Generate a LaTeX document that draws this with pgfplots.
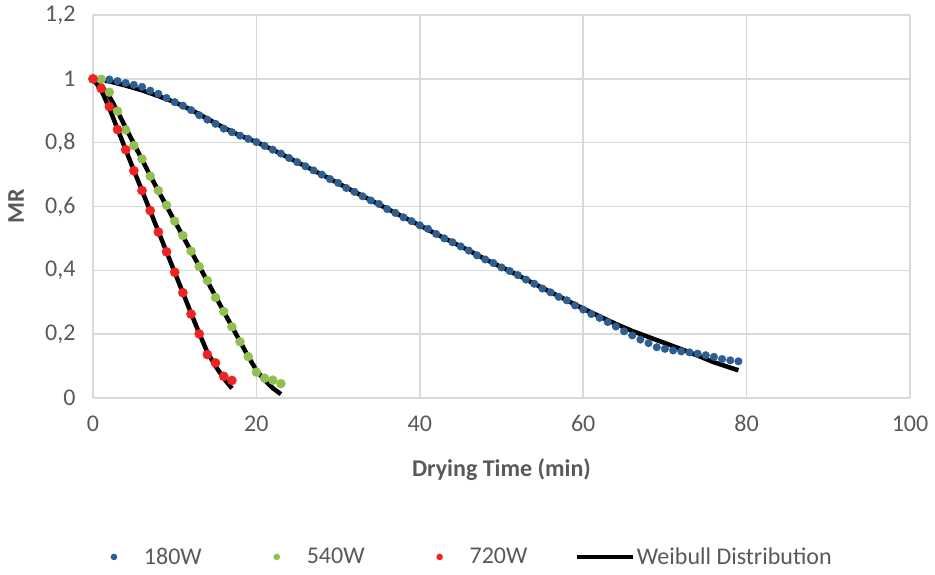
\documentclass[border=0pt]{standalone}
\usepackage{fontspec}
\setmainfont{Carlito}
\usepackage{pgfplots}
\pgfplotsset{compat=1.18}
\definecolor{tgray}{HTML}{595959}
\definecolor{grd}{HTML}{D9D9D9}
\definecolor{c180}{HTML}{2C5E91}
\definecolor{c540}{HTML}{92C050}
\definecolor{c720}{HTML}{F02222}
\pgfplotsset{
  dotleg/.style={legend image code/.code={\path[draw=none,fill=none] (0pt,-2pt) rectangle (56pt,2pt); \fill[#1, draw=none] (28pt,0pt) circle (3.3pt);}},
  lineleg/.style={legend image code/.code={\draw[##1] (0pt,0pt) -- (56pt,0pt);}},
}
\begin{document}
\begin{tikzpicture}
\begin{axis}[
  at={(93pt,176pt)}, anchor=south west,
  scale only axis, width=817pt, height=383pt,
  xmin=0, xmax=100, ymin=0, ymax=1.2,
  xtick={0,20,40,60,80,100}, ytick={0,0.2,0.4,0.6,0.8,1,1.2},
  grid=major, major grid style={grd, line width=1.6pt},
  axis line style={draw=none}, major tick length=0pt,
  clip=false,
  tick label style={font=\fontsize{24}{28}\selectfont, text=tgray},
  /pgf/number format/assume math mode=true,
  /pgf/number format/use comma,
  yticklabel style={/pgf/number format/fixed, xshift=-14pt},
  xticklabel style={yshift=-14pt},
  xlabel={Drying Time (min)}, ylabel={MR},
  every axis x label/.style={at={(axis description cs:0.5,0)}, anchor=center, yshift=-72pt, font=\bfseries\fontsize{24}{28}\selectfont, text=tgray},
  every axis y label/.style={at={(axis description cs:-0.094,0.5)}, rotate=90, anchor=center, font=\bfseries\fontsize{24}{28}\selectfont, text=tgray},
  legend columns=4,
  legend style={at={(axis description cs:0.449,-0.415)}, anchor=center, draw=none, fill=none,
    font=\fontsize{24}{28}\selectfont, text=tgray, nodes={inner sep=2pt},
    /tikz/every even column/.append style={column sep=45pt}},
]
% Weibull fits
\addplot[black, line width=4.5pt, forget plot] coordinates {
(0,1)(2,0.992)(4,0.979)(6,0.964)(8,0.946)(10,0.927)(12,0.903)(14,0.875)(16,0.847)(18,0.822)(20,0.802)(22,0.778)(24,0.752)(26,0.726)(28,0.700)(30,0.673)(32,0.646)(34,0.620)(36,0.593)(38,0.567)(40,0.541)(42,0.514)(44,0.488)(46,0.462)(48,0.435)(50,0.410)(52,0.385)(54,0.358)(56,0.332)(58,0.306)(60,0.280)(62,0.256)(64,0.232)(66,0.210)(68,0.191)(70,0.172)(72,0.153)(74,0.133)(76,0.112)(78,0.095)(79,0.087)};
\addplot[black, line width=4.5pt, forget plot] coordinates {
(0,1)(1,0.98)(2,0.945)(3,0.898)(4,0.847)(5,0.797)(6,0.747)(7,0.697)(8,0.649)(9,0.601)(10,0.554)(11,0.507)(12,0.460)(13,0.413)(14,0.366)(15,0.318)(16,0.271)(17,0.224)(18,0.177)(19,0.130)(20,0.087)(21,0.056)(22,0.031)(23,0.012)};
\addplot[black, line width=4.5pt, forget plot] coordinates {
(0,1)(1,0.965)(2,0.908)(3,0.843)(4,0.778)(5,0.713)(6,0.650)(7,0.586)(8,0.522)(9,0.458)(10,0.394)(11,0.330)(12,0.266)(13,0.203)(14,0.143)(15,0.100)(16,0.062)(17,0.030)};
% 180W
\addplot[only marks, mark=*, mark size=3.8pt, c180, mark options={draw=none, fill=c180}, dotleg=c180] coordinates {
(0,1.0)(1,1.0)(2,0.998)(3,0.993)(4,0.987)(5,0.981)(6,0.975)(7,0.963)(8,0.953)(9,0.940)
(10,0.927)(11,0.916)(12,0.902)(13,0.886)(14,0.872)(15,0.859)(16,0.844)(17,0.833)(18,0.822)(19,0.812)
(20,0.802)(21,0.790)(22,0.778)(23,0.766)(24,0.752)(25,0.739)(26,0.726)(27,0.713)(28,0.700)(29,0.686)
(30,0.674)(31,0.658)(32,0.646)(33,0.632)(34,0.619)(35,0.608)(36,0.592)(37,0.580)(38,0.566)(39,0.554)
(40,0.541)(41,0.530)(42,0.514)(43,0.500)(44,0.488)(45,0.475)(46,0.462)(47,0.447)(48,0.434)(49,0.423)
(50,0.409)(51,0.398)(52,0.385)(53,0.371)(54,0.358)(55,0.343)(56,0.331)(57,0.317)(58,0.306)(59,0.290)
(60,0.277)(61,0.263)(62,0.251)(63,0.238)(64,0.224)(65,0.209)(66,0.196)(67,0.183)(68,0.172)(69,0.159)
(70,0.154)(71,0.149)(72,0.146)(73,0.143)(74,0.139)(75,0.134)(76,0.129)(77,0.122)(78,0.118)(79,0.115)};
\addlegendentry{180W}
% 540W
\addplot[only marks, mark=*, mark size=4.5pt, c540, mark options={draw=none, fill=c540}, dotleg=c540] coordinates {
(0,1.0)(1,0.998)(2,0.958)(3,0.899)(4,0.840)(5,0.791)(6,0.749)(7,0.695)(8,0.650)(9,0.604)
(10,0.554)(11,0.509)(12,0.460)(13,0.412)(14,0.368)(15,0.315)(16,0.271)(17,0.223)(18,0.176)(19,0.130)
(20,0.081)(21,0.062)(22,0.056)(23,0.045)};
\addlegendentry{540W}
% 720W
\addplot[only marks, mark=*, mark size=4.6pt, c720, mark options={draw=none, fill=c720}, dotleg=c720] coordinates {
(0,1.0)(1,0.970)(2,0.913)(3,0.841)(4,0.778)(5,0.712)(6,0.650)(7,0.587)(8,0.520)(9,0.458)
(10,0.394)(11,0.330)(12,0.263)(13,0.201)(14,0.136)(15,0.110)(16,0.068)(17,0.055)};
\addlegendentry{720W}
\addlegendimage{black, line width=4.5pt, lineleg}
\addlegendentry{Weibull Distribution}
\end{axis}
\pgfresetboundingbox
\path[use as bounding box] (0,0) rectangle (935pt,574pt);
\end{tikzpicture}
\end{document}
